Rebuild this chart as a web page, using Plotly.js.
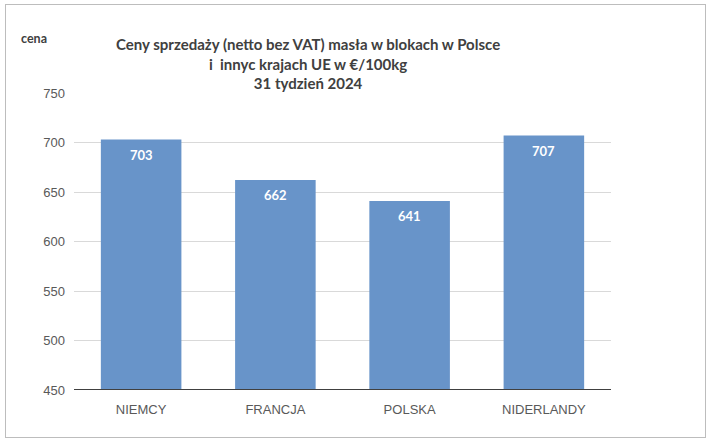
<!DOCTYPE html>
<html><head><meta charset="utf-8">
<script src="https://cdn.plot.ly/plotly-3.0.1.min.js"></script>
<style>body{margin:0;background:#fff}#frame{position:absolute;left:5px;top:4px;width:699px;height:432px;border:1px solid #bdbdbd;pointer-events:none}#chart{width:707px;height:439px}</style>
</head><body>
<div id="chart"></div><div id="frame"></div>
<script>
const categories = ["NIEMCY", "FRANCJA", "POLSKA", "NIDERLANDY"];
const prices = [703, 662, 641, 707];
const yTicks = [450, 500, 550, 600, 650, 700, 750];
const titleText = '<b>Ceny sprzedaży (netto bez VAT) masła w blokach w Polsce<br>i  innyc krajach UE w €/100kg<br>31 tydzień 2024</b>';

const labelAnnotations = categories.map((c, i) => ({
  x: c, y: prices[i], xref: 'x', yref: 'y', text: '<b>' + prices[i] + '</b>', showarrow: false,
  yanchor: 'middle', yshift: -15, font: {family: 'Lato, sans-serif', size: 13, color: '#ffffff'}
}));

Plotly.newPlot('chart', [{
  type: 'bar', x: categories, y: prices,
  marker: {color: '#6894c9'},
  textposition: 'none', hoverinfo: 'none'
}], {
  width: 707, height: 439,
  margin: {l: 74, r: 96, t: 93, b: 49},
  paper_bgcolor: '#fff', plot_bgcolor: '#fff',
  bargap: 0.4,
  showlegend: false,
  xaxis: {tickfont: {family: 'Liberation Sans Narrow, sans-serif', size: 13, color: '#595959'}, ticks: '', showline: false, fixedrange: true, ticklabelstandoff: 10},
  yaxis: {range: [450, 750], tickvals: yTicks, ticktext: yTicks.map(String),
    tickfont: {family: 'Liberation Sans Narrow, sans-serif', size: 13, color: '#595959'},
    gridcolor: '#d9d9d9', gridwidth: 1, zeroline: false, showline: false, ticks: '', ticklabelstandoff: 8},
  shapes: [{type: 'line', xref: 'paper', yref: 'y', x0: 0, x1: 1, y0: 450, y1: 450, line: {color: '#404040', width: 2}}],
  annotations: labelAnnotations.concat([
    {text: '<b>cena</b>', xref: 'paper', yref: 'paper', x: -0.074, y: 1.185, xanchor: 'center', yanchor: 'middle', showarrow: false,
      font: {family: 'Lato, sans-serif', size: 12.5, color: '#404040'}},
    {text: titleText, xref: 'paper', yref: 'paper', x: 0.436, y: 1.098, xanchor: 'center', yanchor: 'middle', align: 'center', showarrow: false,
      font: {family: 'Lato, sans-serif', size: 15, color: '#404040'}}
  ])
}, {displayModeBar: false, staticPlot: true});
</script>
</body></html>
